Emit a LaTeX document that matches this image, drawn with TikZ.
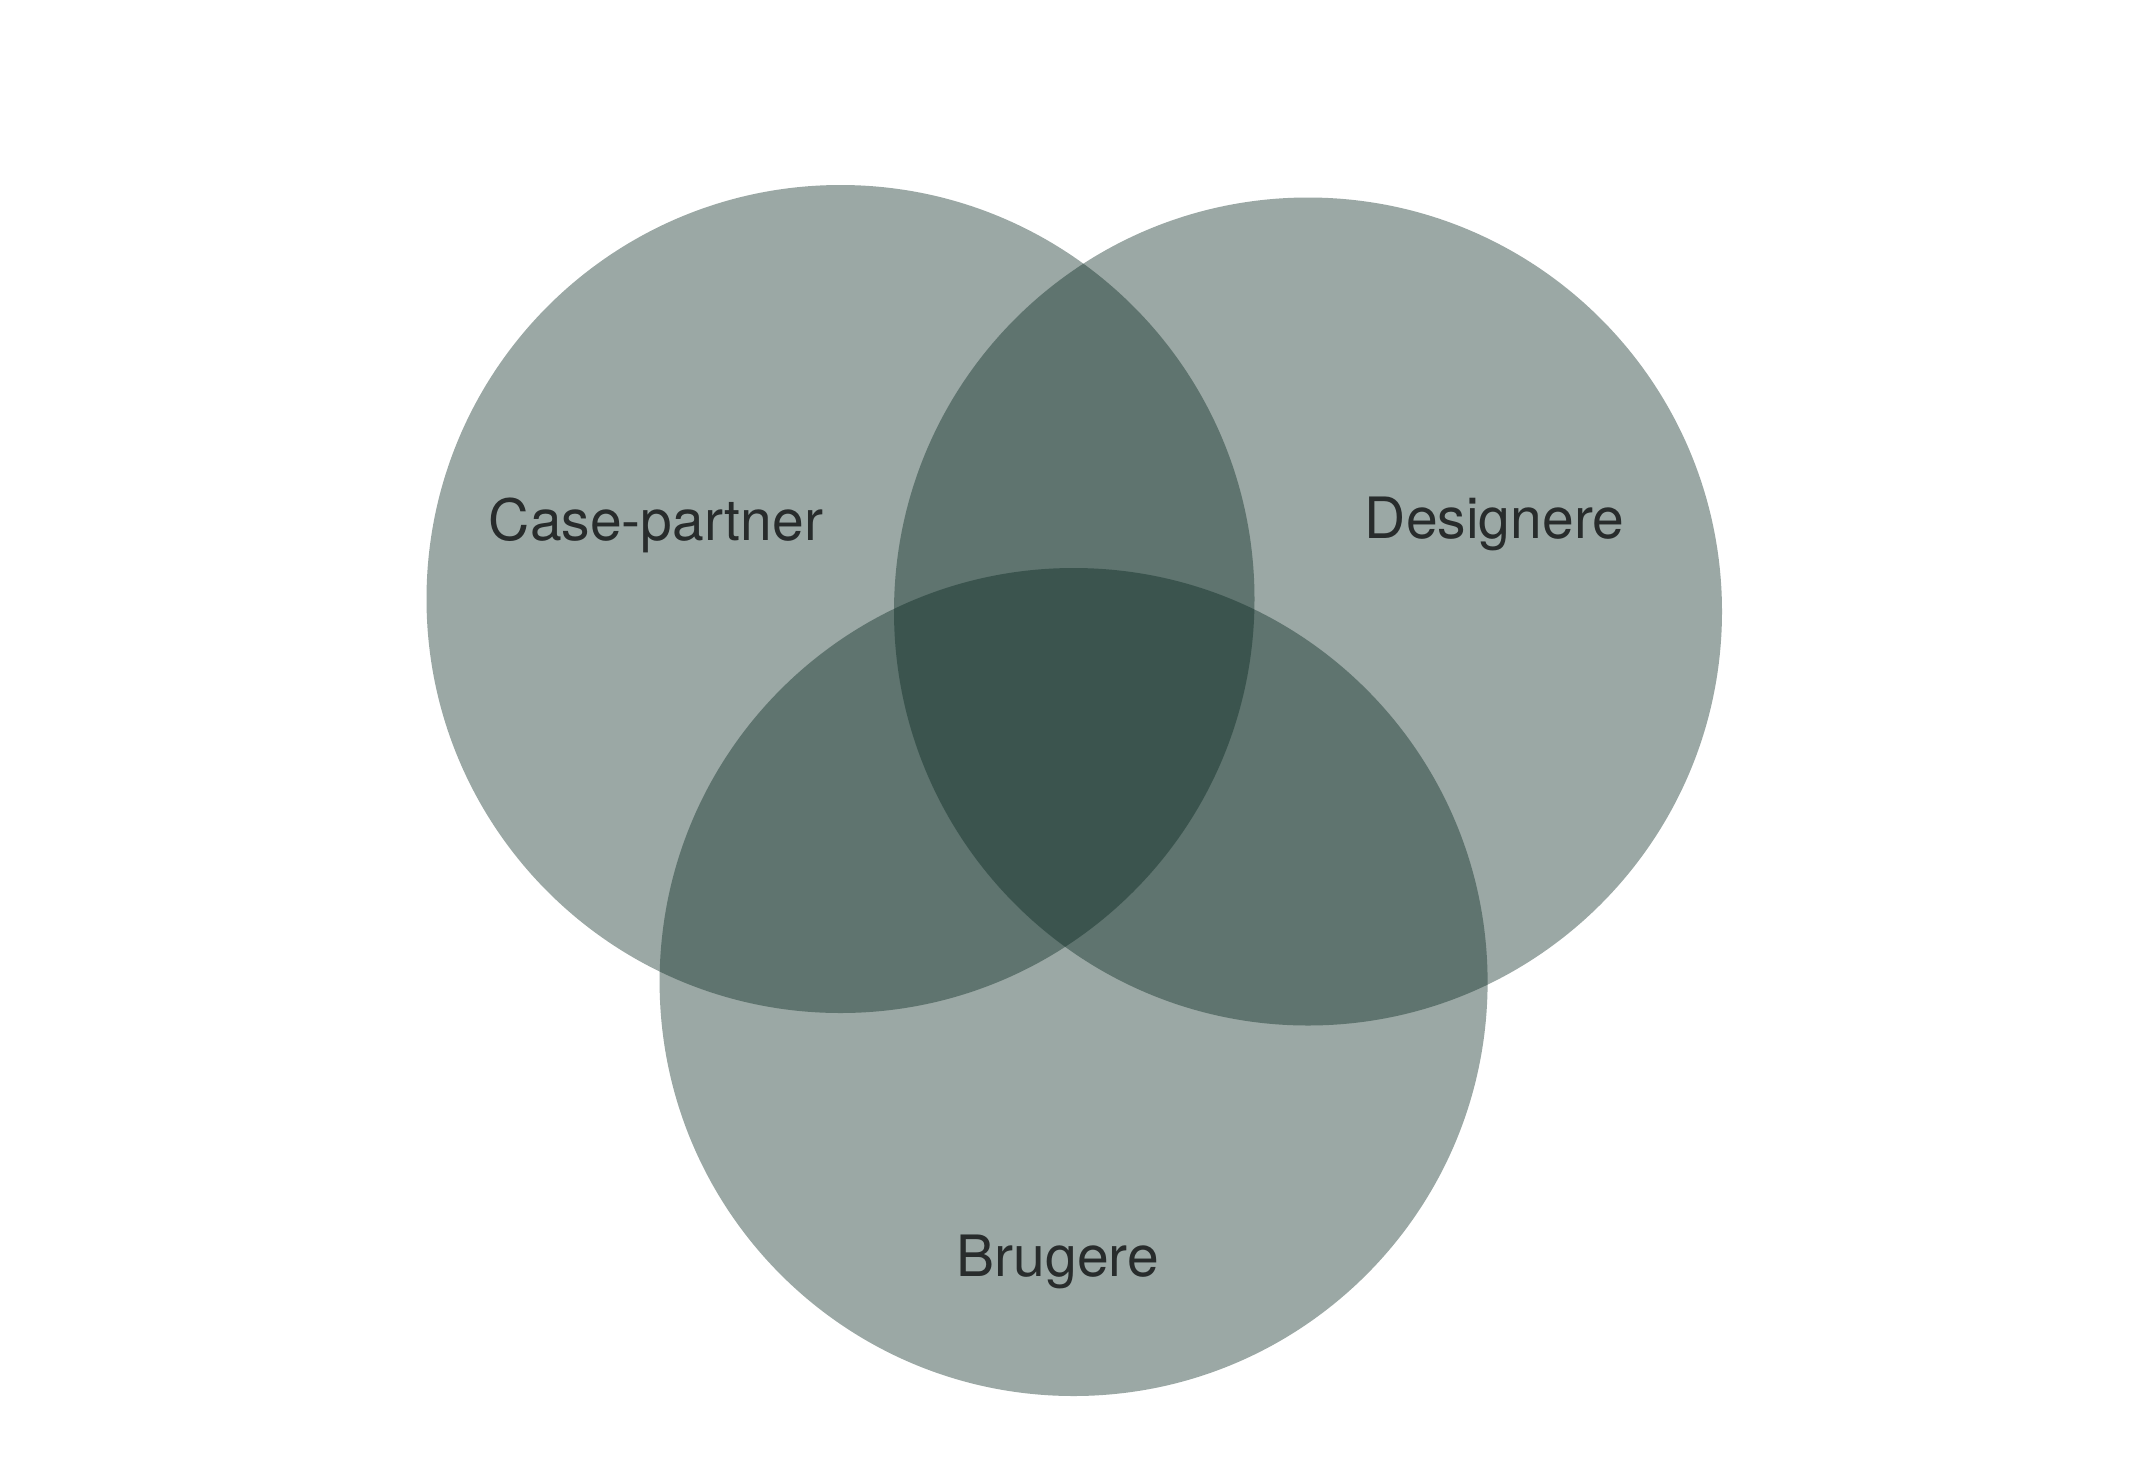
\documentclass[tikz,border=0pt]{standalone}
\usepackage{fontspec}
\setmainfont{TeX Gyre Heros}
\definecolor{vennfill}{RGB}{5,38,30}
\definecolor{labelgray}{RGB}{40,44,44}
\begin{document}
\begin{tikzpicture}[x=1pt,y=-1pt,
  setcircle/.style={fill=vennfill,fill opacity=0.4,draw=none},
  setlabel/.style={anchor=base,text=labelgray,inner sep=0pt,
    font=\fontsize{57}{60}\selectfont}]
  \useasboundingbox[fill=white] (0,0) rectangle (2150,1468);
  % the three overlapping sets
  \fill[setcircle] (840.5,599) circle[radius=414];
  \fill[setcircle] (1308,611.5) circle[radius=414];
  \fill[setcircle] (1073.6,982) circle[radius=414];
  % set names
  \node[setlabel] (casepartner) at (656,540) {Case-partner};
  \node[setlabel] (designere) at (1494.5,538) {Designere};
  \node[setlabel] (brugere) at (1058,1276) {Brugere};
\end{tikzpicture}
\end{document}
